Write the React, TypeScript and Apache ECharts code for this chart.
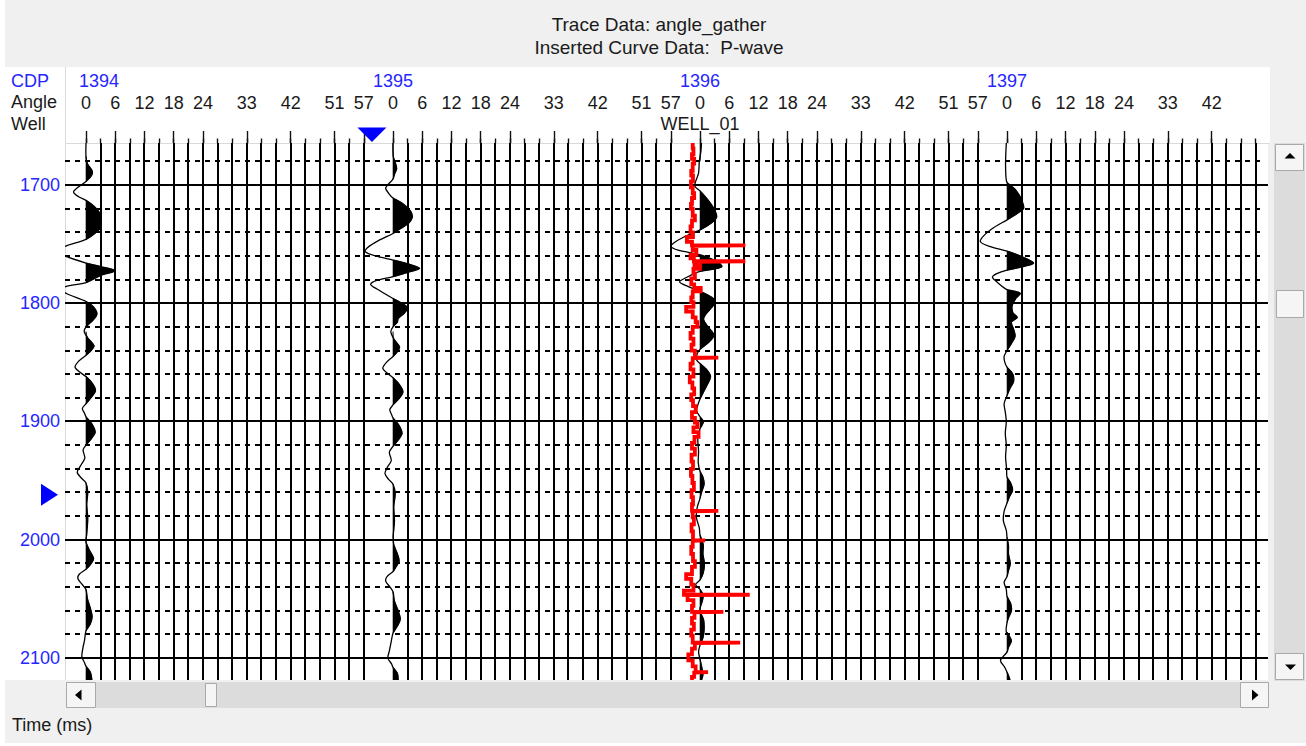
import React, { useEffect, useRef } from "react";
import * as echarts from "echarts";

// ---------------- data ----------------
const cdps = [1394, 1395, 1396, 1397];
const angles = [0, 3, 6, 9, 12, 15, 18, 21, 24, 27, 30, 33, 36, 39, 42, 45, 48, 51, 54, 57];
const labeledAngles = [0, 6, 12, 18, 24, 33, 42, 51, 57];
const timeLabels = [1700, 1800, 1900, 2000, 2100];
const majorTimes = [1700, 1800, 1900, 2000, 2100];
const minorTimes = [1680, 1720, 1740, 1760, 1780, 1820, 1840, 1860, 1880, 1920, 1940, 1960, 1980, 2020, 2040, 2060, 2080];

// wiggle traces (time ms, amplitude in trace-spacing units), angle 0 of each CDP
const wiggle1394 = [
  [1664.5, 0], [1676, 0], [1682, 0.1], [1688, 0.42], [1692, 0.38], [1697, 0], [1702, -0.55], [1706, -0.85], [1710, -0.5], [1713, 0],
  [1718, 0.55], [1723, 0.9], [1728, 1.0], [1736, 1.0], [1741, 0.6], [1746, 0], [1752, -1.45], [1756, -2.0], [1760, -1.45], [1766, 0],
  [1769, 1.0], [1772.5, 2.0], [1776, 1.1], [1782.5, 0], [1786, -1.4], [1789, -1.65], [1792, -1.3], [1798.5, 0], [1803, 0.5], [1809, 0.75],
  [1814, 0.5], [1820, 0], [1824, -0.12], [1829, 0.1], [1836, 0.55], [1840, 0.35], [1844, 0], [1849, -0.5], [1854, -0.75], [1858, -0.45],
  [1862, 0], [1868, 0.45], [1874, 0.65], [1879, 0.4], [1885, 0], [1889, -0.25], [1893, -0.1], [1896, 0], [1902, 0.4], [1909, 0.63],
  [1914, 0.4], [1920, 0], [1924, -0.2], [1931, -0.08], [1937, -0.35], [1943, -0.6], [1948, -0.3], [1952, 0], [1960, 0.12], [1970, 0.05],
  [1982, 0.12], [1995, 0.05], [2002, 0], [2008, 0.2], [2016, 0.52], [2021, 0.3], [2025, 0], [2029, -0.45], [2033, -0.55], [2038, -0.25],
  [2042, 0], [2050, 0.1], [2058, 0.3], [2065, 0.42], [2071, 0.3], [2077, 0], [2085, -0.1], [2092, -0.22], [2099, -0.28], [2104, -0.1],
  [2107, 0], [2112, 0.3], [2118.6, 0.4],
];
const wiggle1395 = [
  [1664.5, 0], [1676, 0.02], [1681, 0.15], [1686, 0.25], [1691, 0.1], [1695, 0], [1702.5, -0.5], [1707, -0.3], [1711, 0], [1716, 0.7],
  [1722, 1.2], [1727, 1.32], [1732, 1.1], [1737, 0.5], [1741, 0], [1747, -1.0], [1753, -1.75], [1756.5, -1.9], [1760, -1.2], [1763.5, 0],
  [1767, 1.1], [1770.5, 1.82], [1774, 1.0], [1777.5, 0], [1781, -1.2], [1784, -1.53], [1788, -1.1], [1796, 0], [1800, 0.6], [1804, 1.0],
  [1808, 0.8], [1813, 0.35], [1816, 0.3], [1820, 0], [1824, -0.15], [1830, 0.05], [1837, 0.45], [1841, 0.3], [1845, 0], [1850, -0.45],
  [1855, -0.7], [1859, -0.4], [1863, 0], [1869, 0.45], [1875, 0.68], [1880, 0.45], [1886, 0], [1890, -0.22], [1894, -0.1], [1897, 0],
  [1903, 0.4], [1910, 0.62], [1915, 0.4], [1921, 0], [1926, -0.25], [1933, -0.12], [1939, -0.4], [1944, -0.55], [1949, -0.3], [1953, 0],
  [1961, 0.15], [1972, 0.05], [1984, 0.1], [1996, 0.02], [2004, 0.05], [2012, 0.3], [2018, 0.42], [2023, 0.2], [2027, 0], [2031, -0.4],
  [2035, -0.5], [2040, -0.2], [2044, 0], [2052, 0.1], [2060, 0.35], [2067, 0.5], [2073, 0.3], [2079, 0], [2086, -0.12], [2094, -0.25],
  [2100, -0.35], [2105, -0.1], [2108, 0], [2113, 0.3], [2118.6, 0.35],
];
const wiggle1396 = [
  [1664.5, 0.1], [1672, 0.05], [1680, -0.05], [1690, -0.1], [1697, -0.3], [1701, -0.35], [1705, 0], [1712, 0.5], [1720, 0.95], [1727, 1.14],
  [1732, 0.8], [1738, 0], [1744, -1.1], [1749, -1.8], [1752, -2.0], [1755, -1.5], [1759, 0], [1765, 1.2], [1769, 1.5], [1771, 1.0],
  [1773, 0], [1778, -0.9], [1782, -1.4], [1786, -0.8], [1790, 0], [1795, 0.8], [1799, 1.05], [1805, 0.7], [1810, 0.35], [1814, 0.25],
  [1820, 0.55], [1827, 0.95], [1833, 0.6], [1839, 0], [1843, -0.2], [1848, -0.23], [1851, 0], [1856, 0.45], [1862, 0.72], [1870, 0.45],
  [1876, 0.2], [1881, 0], [1886, -0.15], [1891, -0.23], [1896, 0], [1900, 0.23], [1904, 0.1], [1906, 0], [1915, -0.15], [1925, -0.1],
  [1935, -0.12], [1942, 0], [1947, 0.2], [1953, 0.28], [1960, 0.1], [1965, 0], [1973, -0.2], [1981, -0.25], [1990, -0.05], [1996, 0],
  [2004, 0.22], [2012, 0.2], [2020, 0.3], [2028, 0.22], [2034, 0], [2038, -0.3], [2042, 0], [2047, 0.22], [2052, 0.15], [2058, 0],
  [2062, 0.05], [2068, 0.25], [2076, 0.28], [2083, 0.2], [2089, 0], [2095, -0.1], [2101, 0], [2108, 0.12], [2114, 0.2], [2118.6, 0.1],
];
const wiggle1397 = [
  [1664.5, -0.05], [1680, -0.1], [1692, -0.08], [1698, 0], [1703, 0.5], [1710, 0.9], [1719.5, 1.14], [1724, 0.7], [1729.5, 0], [1736, -0.9],
  [1743, -1.6], [1748, -1.82], [1752, -1.2], [1756, 0], [1760, 0.9], [1766, 1.82], [1769, 1.1], [1772, 0], [1775, -0.7], [1778, -1.0],
  [1783, -0.6], [1788.5, 0], [1791.5, 0.9], [1796, 0.6], [1802, 0.35], [1808, 0.4], [1812, 0.7], [1816, 0.3], [1822, 0.45], [1828, 0.55],
  [1834, 0.3], [1840, 0], [1845, -0.2], [1850, -0.15], [1854, 0], [1860, 0.4], [1866, 0.45], [1872, 0.2], [1878, 0], [1885, -0.2],
  [1892, -0.12], [1900, -0.05], [1910, -0.12], [1920, -0.05], [1930, -0.1], [1940, -0.03], [1947, 0], [1952, 0.25], [1958, 0.38], [1964, 0.15],
  [1969, 0], [1976, -0.2], [1984, -0.25], [1992, -0.05], [1998, 0], [2005, 0.1], [2012, 0.1], [2020, 0.22], [2026, 0.1], [2031, 0],
  [2036, -0.2], [2042, -0.05], [2048, 0], [2054, 0.25], [2060, 0.3], [2066, 0.1], [2070, 0], [2078, -0.05], [2085, 0.3], [2091, 0.1],
  [2095, 0], [2102, -0.45], [2108, -0.15], [2112, 0], [2118.6, 0.2],
];
const wiggles = [wiggle1394, wiggle1395, wiggle1396, wiggle1397];

// P-wave log (time ms, deflection in trace-spacing units from log baseline), blocky
const pwaveLog = [
  [1664.5, 0.1], [1669, 0.15], [1674, 0.05], [1678, 0.2], [1682, 0.1], [1688, 0.0], [1692, 0.12], [1697, -0.02], [1702, 0.1], [1707, 0.2],
  [1711, 0.05], [1716, -0.02], [1720, 0.1], [1726, 0.25], [1730, 0.05], [1735, -0.05], [1740, 0.12], [1744, -0.3], [1748, 0.05], [1751, 3.7],
  [1751.4, 0.1], [1755, 0.35], [1759, -0.05], [1762, 0.18], [1764.5, 3.7], [1764.9, 0.22], [1768, 0.6], [1771, 0.15], [1775, 0.25], [1779, 0.0],
  [1784, 0.2], [1787, 0.65], [1790, 0.1], [1795, 0.0], [1799, 0.15], [1803, -0.35], [1807, 0.1], [1812, 0.3], [1816, 0.42], [1820, 0.1],
  [1825, -0.05], [1830, 0.15], [1835, 0.02], [1840, 0.25], [1846, 1.85], [1846.4, 0.1], [1851, -0.05], [1856, 0.15], [1862, -0.1], [1867, 0.08],
  [1872, 0.2], [1877, 0.0], [1882, 0.12], [1887, 0.3], [1892, 0.05], [1897, 0.25], [1901, 0.42], [1905, 0.15], [1909, 0.5], [1913, 0.22],
  [1918, 0.05], [1923, 0.25], [1928, 0.02], [1934, 0.12], [1940, -0.02], [1946, 0.08], [1952, 0.18], [1958, 0.02], [1964, 0.12], [1970, 0.05],
  [1975.5, 1.85], [1975.9, 0.1], [1981, 0.18], [1987, 0.02], [1993, 0.12], [2000.5, 0.95], [2000.9, 0.1], [2006, 0.0], [2012, 0.12], [2018, 0.25],
  [2023, 0.05], [2029, -0.35], [2033, 0.0], [2038, 0.15], [2043, -0.5], [2046.5, 4.0], [2046.9, -0.25], [2051, 0.15], [2056, 0.05], [2061, 2.2],
  [2061.4, 0.22], [2066, 0.05], [2071, 0.18], [2076, 0.0], [2081, 0.1], [2087, 3.35], [2087.4, 0.25], [2092, 0.05], [2097, -0.2], [2102, 0.1],
  [2107, 0.3], [2112, 1.15], [2112.4, 0.2], [2116, 0.05],
];
const WELL_NAME = "WELL_01";
const WELL_CDP = 1396;
const LOG_BASE_OFFSET = -0.6;
const CURSOR_SLOT = 19.56;
const CURSOR_TIME = 1962;

// ---------------- layout ----------------
const SLOTS_PER_GATHER = 21;
const XMIN = -1.436;
const XMAX = 80.85;
const YMIN = 1664.5;
const YMAX = 2118.6;
const FONT = '"Liberation Sans", Arial, sans-serif';
const BLUE = "#2626ff";
const INK = "#1a1a1a";

const slotOf = (g: number, a: number) => g * SLOTS_PER_GATHER + a / 3;
const traceItems: { slot: number; wiggle: number[][] | null }[] = [];
cdps.forEach((_c, g) =>
  angles.forEach((a) => {
    const s = slotOf(g, a);
    if (s <= XMAX) traceItems.push({ slot: s, wiggle: a === 0 ? wiggles[g] : null });
  })
);
const traceSlots = traceItems.map((t) => t.slot);
const labeledSlots: number[] = [];
cdps.forEach((_c, g) =>
  labeledAngles.forEach((a) => {
    const s = slotOf(g, a);
    if (s < XMAX - 2) labeledSlots.push(s);
  })
);
const cdpSlots = cdps.map((_c, g) => slotOf(g, 0));
const wellSlot = slotOf(cdps.indexOf(WELL_CDP), 0);

function buildLogPoints() {
  const pts: number[][] = [];
  pwaveLog.forEach(([t, d], i) => {
    const tNext = i < pwaveLog.length - 1 ? pwaveLog[i + 1][0] : YMAX;
    const x = wellSlot + LOG_BASE_OFFSET + d;
    pts.push([x, t], [x, tNext]);
  });
  return pts;
}

function buildOption(): any {
  const baseX = {
    type: "value",
    min: XMIN,
    max: XMAX,
    position: "top",
    gridIndex: 0,
    axisLine: { show: false },
    splitLine: { show: false },
  };
  const tickStyle = { color: "#111", width: 1.4 };
  return {
    animation: false,
    backgroundColor: "#ffffff",
    textStyle: { fontFamily: FONT },
    grid: { left: 65, top: 143, width: 1203, height: 537, show: false, containLabel: false, outerBoundsMode: "none" },
    xAxis: [
      { ...baseX, axisTick: { show: true, customValues: traceSlots, length: 4.5, lineStyle: tickStyle }, axisLabel: { show: false } },
      {
        ...baseX,
        axisTick: { show: true, customValues: labeledSlots, length: 12, lineStyle: tickStyle },
        axisLabel: {
          show: true,
          customValues: labeledSlots,
          formatter: (v: number) => String(Math.round((((v % SLOTS_PER_GATHER) + SLOTS_PER_GATHER) % SLOTS_PER_GATHER) * 3)),
          margin: 31.5,
          fontSize: 18,
          fontFamily: FONT,
          color: INK,
        },
      },
      {
        ...baseX,
        axisTick: { show: false },
        axisLabel: {
          show: true,
          customValues: cdpSlots,
          formatter: (v: number) => {
            const g = Math.round(v / SLOTS_PER_GATHER);
            return g === 0 ? `{first|${cdps[g]}}` : `{n|${cdps[g]}}`;
          },
          margin: 53,
          rich: {
            first: { padding: [0, 0, 0, 26], color: BLUE, fontSize: 18, fontFamily: FONT },
            n: { color: BLUE, fontSize: 18, fontFamily: FONT },
          },
        },
      },
      {
        ...baseX,
        axisTick: { show: false },
        axisLabel: { show: true, customValues: [wellSlot], formatter: () => WELL_NAME, margin: 10.5, fontSize: 18, fontFamily: FONT, color: INK },
      },
    ],
    yAxis: {
      type: "value",
      inverse: true,
      min: YMIN,
      max: YMAX,
      axisLine: { show: false },
      axisTick: { show: false },
      splitLine: { show: false },
      axisLabel: {
        show: true,
        customValues: timeLabels,
        formatter: (v: number) => String(v),
        margin: 5,
        fontSize: 18,
        fontFamily: FONT,
        color: BLUE,
      },
    },
    series: [
      {
        type: "custom",
        name: "minor",
        silent: true,
        clip: true,
        z: 2,
        data: minorTimes.map((t) => [XMIN, t]),
        encode: { x: 0, y: 1 },
        renderItem: (params: any, api: any) => {
          const t = minorTimes[params.dataIndex];
          const p0 = api.coord([XMIN, t]);
          const p1 = api.coord([XMAX, t]);
          const y = Math.round(p0[1]);
          return { type: "line", shape: { x1: p0[0], y1: y, x2: p1[0] - 3, y2: y }, style: { stroke: "#000", lineWidth: 2, lineDash: [5, 5] } };
        },
      },
      {
        type: "custom",
        name: "major",
        silent: true,
        clip: true,
        z: 2,
        data: majorTimes.map((t) => [XMIN, t]),
        encode: { x: 0, y: 1 },
        renderItem: (params: any, api: any) => {
          const t = majorTimes[params.dataIndex];
          const p0 = api.coord([XMIN, t]);
          const p1 = api.coord([XMAX, t]);
          const y = Math.round(p0[1]);
          return { type: "line", shape: { x1: p0[0], y1: y, x2: p1[0], y2: y }, style: { stroke: "#000", lineWidth: 2 } };
        },
      },
      {
        type: "custom",
        name: "traces",
        silent: true,
        clip: true,
        z: 3,
        data: traceItems.map((t) => [t.slot, YMIN]),
        encode: { x: 0, y: 1 },
        renderItem: (params: any, api: any) => {
          const item = traceItems[params.dataIndex];
          const s = item.slot;
          if (!item.wiggle) {
            const p0 = api.coord([s, YMIN]);
            const p1 = api.coord([s, YMAX]);
            const x = Math.round(p0[0]);
            return { type: "line", shape: { x1: x, y1: p0[1], x2: x, y2: p1[1] }, style: { stroke: "#000", lineWidth: 2 } };
          }
          const w = item.wiggle;
          const children: any[] = [];
          let i = 0;
          while (i < w.length) {
            if (w[i][1] > 0) {
              const start = Math.max(0, i - 1);
              let j = i;
              while (j < w.length && w[j][1] > 0) j++;
              const end = Math.min(w.length - 1, j);
              const pts: number[][] = [];
              for (let k = start; k <= end; k++) pts.push(api.coord([s + Math.max(0, w[k][1]), w[k][0]]));
              if (w[start][1] > 0) pts.unshift(api.coord([s, w[start][0]]));
              if (w[end][1] > 0) pts.push(api.coord([s, w[end][0]]));
              const base = api.coord([s, w[start][0]]);
              children.push({
                type: "polygon",
                shape: { points: pts, smooth: 0.3, smoothConstraint: [[base[0], base[1]], [base[0], base[1]]] },
                style: { fill: "#000", stroke: "#000", lineWidth: 0.6 },
              });
              i = j;
            } else i++;
          }
          children.push({
            type: "polyline",
            shape: { points: w.map(([t, a]) => api.coord([s + a, t])), smooth: 0.3 },
            style: { stroke: "#000", lineWidth: 1.3, fill: null },
          });
          return { type: "group", children };
        },
      },
      {
        type: "line",
        name: "P-wave",
        silent: true,
        clip: true,
        z: 5,
        symbol: "none",
        showSymbol: false,
        data: buildLogPoints(),
        lineStyle: { color: "#ff0000", width: 3.8, join: "miter" },
      },
    ],
  };
}

function buildGraphic(cx: number, cy: number): any[] {
  const z = 50;
  const btn = (x: number, y: number, w: number, h: number) => ({
    type: "rect",
    shape: { x, y, width: w, height: h },
    style: { fill: "#f5f5f5", stroke: "#a9a9a9", lineWidth: 1 },
    z,
  });
  const tri = (pts: number[][]) => ({ type: "polygon", shape: { points: pts }, style: { fill: "#000" }, z: z + 1 });
  const txt = (x: number, y: number, text: string, fill: string, size: number, align = "left") => ({
    type: "text",
    x,
    y,
    style: { text, fill, fontSize: size, fontFamily: FONT, align, verticalAlign: "middle" },
    z: 10,
  });
  return [
    { type: "rect", shape: { x: 5, y: 0, width: 1301, height: 743 }, style: { fill: "#f0f0f0" }, z: -30 },
    { type: "rect", shape: { x: 5, y: 67, width: 1265, height: 76 }, style: { fill: "#ffffff" }, z: -20 },
    { type: "rect", shape: { x: 5, y: 143, width: 1263, height: 537 }, style: { fill: "#ffffff" }, z: -20 },
    { type: "line", shape: { x1: 65.5, y1: 67, x2: 65.5, y2: 680 }, style: { stroke: "#dadada", lineWidth: 1 }, z: -10 },
    { type: "line", shape: { x1: 65, y1: 143.5, x2: 1270, y2: 143.5 }, style: { stroke: "#dadada", lineWidth: 1 }, z: -10 },
    txt(659, 24, "Trace Data: angle_gather", INK, 19, "center"),
    txt(659, 47, "Inserted Curve Data:  P-wave", INK, 19, "center"),
    txt(11, 81, "CDP", BLUE, 18),
    txt(11, 102, "Angle", INK, 18),
    txt(11, 123.5, "Well", INK, 18),
    txt(12, 725, "Time (ms)", INK, 18),
    // vertical scrollbar
    { type: "rect", shape: { x: 1274, y: 143, width: 31, height: 538 }, style: { fill: "#dcdcdc" }, z: z - 1 },
    btn(1275.5, 144.5, 28, 26),
    tri([[1284.5, 158.5], [1295.5, 158.5], [1290, 153]]),
    btn(1276.5, 290.5, 27, 27),
    btn(1275.5, 653.5, 28, 26),
    tri([[1285, 664.5], [1296, 664.5], [1290.5, 670]]),
    // horizontal scrollbar
    { type: "rect", shape: { x: 66, y: 682, width: 1203, height: 26 }, style: { fill: "#dcdcdc" }, z: z - 1 },
    btn(66.5, 682.5, 29, 25),
    tri([[75, 695], [81.5, 689.5], [81.5, 700.5]]),
    btn(205.5, 683.5, 11, 23),
    btn(1240.5, 682.5, 28, 25),
    tri([[1258.5, 695], [1252, 689.5], [1252, 700.5]]),
    // cursor markers
    { type: "polygon", shape: { points: [[cx - 14.5, 127.5], [cx + 14.5, 127.5], [cx, 142]] }, style: { fill: "#0000ff" }, z: 20 },
    { type: "polygon", shape: { points: [[41, cy - 11], [41, cy + 11], [58, cy]] }, style: { fill: "#0000ff" }, z: 20 },
  ];
}

export default function App() {
  const ref = useRef<HTMLDivElement>(null);
  useEffect(() => {
    const chart = echarts.init(ref.current as HTMLDivElement, undefined, { renderer: "svg" });
    chart.setOption(buildOption());
    const cx = chart.convertToPixel({ xAxisIndex: 0 }, CURSOR_SLOT) as unknown as number;
    const cy = chart.convertToPixel({ yAxisIndex: 0 }, CURSOR_TIME) as unknown as number;
    chart.setOption({ graphic: buildGraphic(cx, cy) });
    return () => chart.dispose();
  }, []);
  return <div ref={ref} style={{ position: "fixed", left: 0, top: 0, width: 1306, height: 746 }} />;
}
